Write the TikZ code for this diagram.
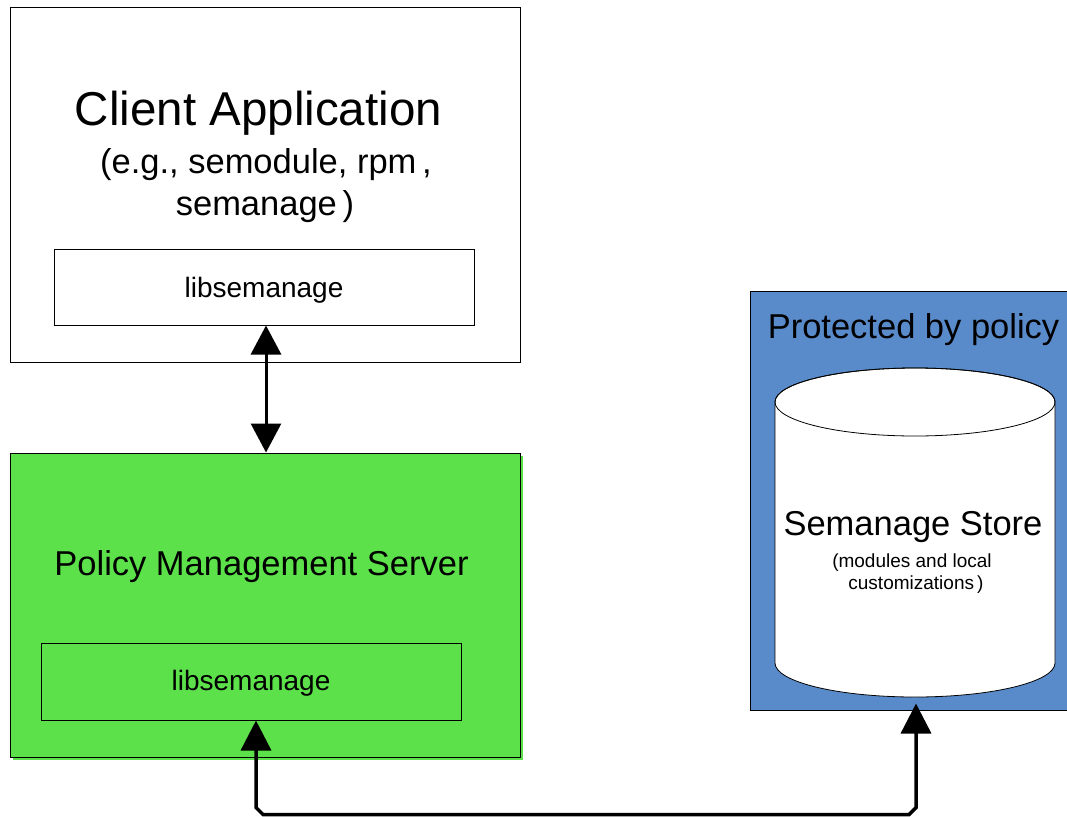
\documentclass[tikz,border=0pt]{standalone}
\usepackage{fontspec}
\setmainfont{Liberation Sans}
\usetikzlibrary{arrows.meta}
\definecolor{servergreen}{RGB}{92,225,74}
\definecolor{storeblue}{RGB}{89,139,203}
\begin{document}
\begin{tikzpicture}[x=1pt,y=-1pt,
  box/.style={draw=black, line width=1pt, inner sep=0pt},
  lbl/.style={anchor=base, inner sep=0pt, text=black},
  huge/.style={lbl, font=\fontsize{47.5}{50}\selectfont},
  large/.style={lbl, font=\fontsize{34.5}{38}\selectfont},
  medium/.style={lbl, font=\fontsize{28}{30}\selectfont},
  small/.style={lbl, font=\fontsize{19}{21}\selectfont},
  link/.style={line width=3pt, {Triangle[width=30pt,length=29pt]}-{Triangle[width=30pt,length=29pt]}},
  bus/.style={line width=3.5pt, line join=miter, {Triangle[width=30pt,length=30pt]}-{Triangle[width=30pt,length=30pt]}},
]
\useasboundingbox (0,0) rectangle (1067,816);
\clip (0,0) rectangle (1067,816);

% client application with its library
\node[box, fill=white, minimum width=510pt, minimum height=354pt] (client) at (265,185) {};
\node[box, fill=white, minimum width=420pt, minimum height=76pt] (clientlib) at (264,287) {};
\node[huge] (clienttitle) at (258.5,125) {Client Application};
\node[large] (clientex1) at (266,173) {(e.g., semodule, rpm\,,};
\node[large] (clientex2) at (265,215) {semanage\,)};
\node[medium] (clientlibtext) at (264,297) {libsemanage};

% policy management server with its library
\fill[servergreen] (13,456) rectangle (523,760);
\node[box, fill=servergreen, minimum width=510pt, minimum height=304pt] (server) at (265,605) {};
\node[box, fill=servergreen, minimum width=420pt, minimum height=77pt] (serverlib) at (251,681.5) {};
\node[large] (servertitle) at (261.5,575) {Policy Management Server};
\node[medium] (serverlibtext) at (251,690) {libsemanage};

% protected area holding the store (runs on past the right edge)
\node[box, fill=storeblue, minimum width=400pt, minimum height=419pt] (protect) at (950,500.5) {};
\node[large] (protecttitle) at (913.5,338) {Protected by policy};
\draw[fill=white, line width=0.8pt]
  (775,402) -- (775,663)
  arc[start angle=180, end angle=0, x radius=140, y radius=34]
  -- (1055,402)
  arc[start angle=0, end angle=-180, x radius=140, y radius=34] -- cycle;
\draw[line width=0.8pt] (915,402) ellipse[x radius=140, y radius=34];
\node[large] (storetitle) at (913,535) {Semanage Store};
\node[small] (storenote1) at (912,567) {(modules and local};
\node[small] (storenote2) at (916,589) {customizations\,)};

% connectors
\draw[link] ([xshift=2pt]clientlib.south) -- ([xshift=1pt]server.north);
\coordinate (storein) at ([xshift=-34pt,yshift=7pt]protect.south);
\draw[bus] ([xshift=5pt]serverlib.south) -- ++(0,87) -- ++(7,7) -- ++(646,0) -- ++(7,-7) -- (storein);
\end{tikzpicture}
\end{document}
